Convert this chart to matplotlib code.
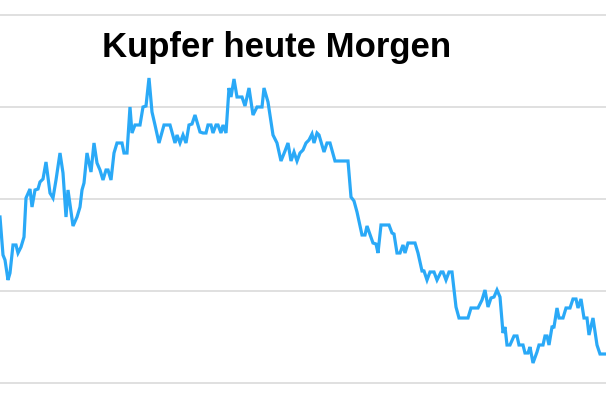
import numpy as np
import matplotlib
matplotlib.use("Agg")
import matplotlib.pyplot as plt

# Kupferpreis heute Morgen (USD/t), Zeit in halben Minuten ab Handelsbeginn
t_halbmin = [
    0, 3, 5, 8, 10, 13, 16, 18, 21, 24, 26, 30, 32, 35, 38, 40, 43, 46, 50, 53,
    56, 60, 63, 66, 68, 73, 77, 80, 82, 84, 87, 91, 94, 97, 100, 103, 106, 108, 111, 114,
    117, 122, 124, 127, 130, 132, 135, 140, 143, 146, 149, 152, 155, 159, 164, 170, 175, 177, 180, 183,
    186, 189, 192, 195, 200, 203, 206, 208, 211, 213, 216, 218, 221, 223, 226, 229, 231, 234, 237, 242,
    245, 249, 253, 257, 262, 264, 268, 273, 277, 281, 285, 288, 291, 294, 297, 300, 303, 306, 309, 312,
    314, 317, 319, 324, 327, 330, 335, 348, 351, 354, 357, 362, 365, 367, 373, 376, 378, 381, 389, 392,
    394, 397, 400, 403, 405, 408, 415, 418, 422, 424, 427, 430, 434, 437, 441, 443, 446, 449, 452, 456,
    459, 468, 471, 478, 482, 485, 488, 491, 494, 497, 500, 503, 505, 507, 510, 514, 517, 519, 523, 525,
    528, 530, 533, 537, 539, 543, 545, 547, 549, 552, 554, 557, 559, 563, 566, 570, 573, 576, 578, 581,
    584, 587, 589, 593, 597, 600, 606,
]
kurs = [
    8966, 8928, 8923, 8903, 8910, 8938, 8938, 8930, 8936, 8946, 8985, 8994, 8976, 8993, 8994, 9001, 9004, 9021, 8990, 8985,
    9003, 9030, 9010, 8966, 8993, 8957, 8966, 8976, 8993, 9000, 9030, 9011, 9040, 9020, 9013, 9003, 9013, 9013, 9003, 9030,
    9040, 9040, 9030, 9030, 9076, 9050, 9058, 9058, 9076, 9077, 9105, 9071, 9058, 9040, 9058, 9058, 9040, 9048, 9040, 9048,
    9040, 9058, 9059, 9068, 9051, 9050, 9050, 9058, 9058, 9050, 9058, 9058, 9050, 9058, 9050, 9095, 9086, 9104, 9086, 9086,
    9077, 9095, 9068, 9076, 9076, 9095, 9081, 9048, 9040, 9022, 9032, 9040, 9022, 9031, 9022, 9030, 9033, 9040, 9043, 9049,
    9040, 9050, 9048, 9031, 9040, 9040, 9022, 9022, 8986, 8982, 8971, 8948, 8948, 8957, 8940, 8939, 8930, 8958, 8958, 8950,
    8949, 8930, 8930, 8938, 8930, 8940, 8940, 8930, 8912, 8912, 8903, 8911, 8911, 8903, 8911, 8911, 8903, 8911, 8911, 8876,
    8865, 8865, 8875, 8875, 8883, 8893, 8876, 8885, 8886, 8893, 8886, 8850, 8856, 8838, 8838, 8847, 8847, 8838, 8838, 8830,
    8830, 8836, 8820, 8831, 8838, 8838, 8847, 8847, 8838, 8856, 8856, 8875, 8865, 8865, 8875, 8875, 8884, 8884, 8875, 8884,
    8865, 8865, 8848, 8865, 8838, 8829, 8829,
]
grid_werte = np.linspace(8800, 9168, 5)
titel = "Kupfer heute Morgen"

fig = plt.figure(figsize=(6.06, 4.0), dpi=100)
ax = fig.add_axes([0, 12 / 400, 1, 378 / 400])

ax.plot(t_halbmin, kurs, color="#2aa9f7", linewidth=2.3, solid_joinstyle="miter", zorder=3)

ax.set_xlim(0, 606)
ax.set_ylim(8795, 9173)
ax.set_yticks(grid_werte)
ax.set_xticks([])
ax.grid(axis="y", color="#dddddd", linewidth=1.3)
ax.tick_params(left=False, labelleft=False)
for s in ax.spines.values():
    s.set_visible(False)

fig.text(276.5 / 606, 1 - 57 / 400, titel, ha="center", va="baseline",
         fontsize=25, fontweight="bold", family="Liberation Sans", color="black")

fig.savefig("out.png", dpi=100, facecolor="white")
